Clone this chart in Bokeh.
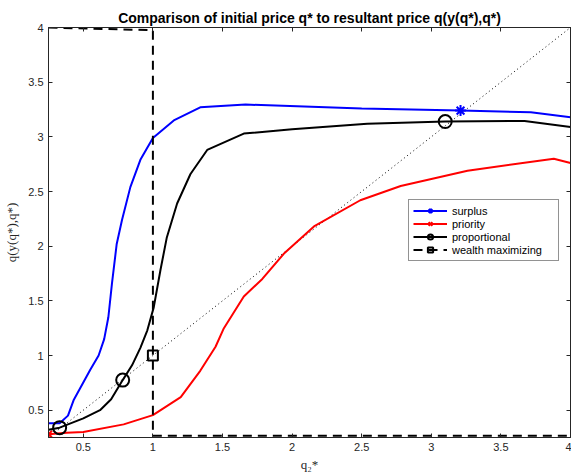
from bokeh.plotting import figure
from bokeh.models import Range1d, LinearAxis, FixedTicker, Legend, LegendItem
from bokeh.embed import file_html
from bokeh.resources import INLINE

# ---- data ----
surplus_x = [0.25, 0.33, 0.39, 0.43, 0.55, 0.61, 0.65, 0.68, 0.706, 0.74, 0.778, 0.838, 0.91, 1.0, 1.15, 1.34, 1.666, 2.5, 3.21, 3.715, 4.0]
surplus_y = [0.38, 0.38, 0.45, 0.59, 0.87, 1.00, 1.15, 1.35, 1.66, 2.02, 2.24, 2.54, 2.79, 2.99, 3.15, 3.27, 3.295, 3.26, 3.24, 3.225, 3.18]

priority_x = [0.25, 0.38, 0.5, 0.79, 1.0, 1.2, 1.34, 1.45, 1.51, 1.653, 1.786, 1.94, 2.157, 2.49, 2.78, 3.26, 3.88, 4.0]
priority_y = [0.28, 0.293, 0.30, 0.37, 0.455, 0.62, 0.86, 1.08, 1.25, 1.54, 1.70, 1.93, 2.18, 2.42, 2.55, 2.69, 2.80, 2.76]

proportional_x = [0.25, 0.33, 0.50, 0.62, 0.70, 0.783, 0.85, 0.91, 0.96, 1.006, 1.054, 1.10, 1.174, 1.27, 1.39, 1.653, 2.0, 2.54, 3.10, 3.67, 4.0]
proportional_y = [0.32, 0.34, 0.425, 0.50, 0.60, 0.775, 0.91, 1.07, 1.23, 1.44, 1.78, 2.08, 2.39, 2.66, 2.88, 3.03, 3.07, 3.12, 3.14, 3.145, 3.09]

wealth_x = [0.25, 1.0, 1.0, 1.0, 4.0]
wealth_y = [4.0, 3.975, 1.0, 0.265, 0.265]

diag_x = [0.25, 4.0]
diag_y = [0.25, 4.0]

surplus_mx, surplus_my = [3.21], [3.24]
priority_mx, priority_my = [0.25], [0.28]
proportional_mx, proportional_my = [0.33, 0.783, 3.10], [0.34, 0.775, 3.14]
wealth_mx, wealth_my = [1.0], [1.0]

ticks = [0.5, 1.0, 1.5, 2.0, 2.5, 3.0, 3.5, 4.0]

title_text = "Comparison of initial price q* to resultant price q(y(q*),q*)"
x_label = "q\u2082*"
y_label = "q(y(q*),q*)"

AX = "#262626"

p = figure(width=571, height=474, x_range=Range1d(0.25, 4.0), y_range=Range1d(0.25, 4.0),
           output_backend="svg", toolbar_location=None,
           min_border_left=48, min_border_right=1, min_border_top=27, min_border_bottom=37,
           x_axis_label=x_label, y_axis_label=y_label)

p.title.text = title_text
p.title.align = "center"
p.title.text_font = "Liberation Sans"
p.title.text_font_style = "bold"
p.title.text_font_size = "14px"
p.title.text_color = "black"
p.title.standoff = 4

p.grid.visible = False
p.outline_line_color = AX
p.outline_line_width = 1

for ax in (p.xaxis[0], p.yaxis[0]):
    ax.ticker = FixedTicker(ticks=ticks)
    ax.major_tick_in = 4
    ax.major_tick_out = 0
    ax.minor_tick_line_color = None
    ax.axis_line_color = AX
    ax.major_tick_line_color = AX
    ax.major_label_text_font = "Liberation Sans"
    ax.major_label_text_font_size = "11px"
    ax.major_label_text_color = AX
    ax.major_label_standoff = 5
    ax.axis_label_text_font = "Liberation Serif"
    ax.axis_label_text_font_size = "13px"
    ax.axis_label_text_font_style = "normal"
    ax.axis_label_text_color = AX
p.xaxis[0].axis_label_standoff = 3
p.yaxis[0].axis_label_standoff = 6

# top and right frame ticks (no labels): drawn as minor ticks of extra axes
for side in ("above", "right"):
    a = LinearAxis(ticker=FixedTicker(ticks=[], minor_ticks=ticks),
                   major_tick_line_color=None, minor_tick_in=4, minor_tick_out=0,
                   minor_tick_line_color=AX, axis_line_color=AX,
                   major_label_standoff=0)
    p.add_layout(a, side)

# diagonal
p.line(diag_x, diag_y, line_color="black", line_width=1, line_dash="1 3")

r_s = p.line(surplus_x, surplus_y, line_color="#0000ff", line_width=2)
m_s = p.scatter(surplus_mx, surplus_my, marker="asterisk", size=11, line_color="#0000ff", line_width=2)

r_p = p.line(priority_x, priority_y, line_color="#ff0000", line_width=2)
m_p = p.scatter(priority_mx, priority_my, marker="x", size=10, line_color="#ff0000", line_width=2)

r_r = p.line(proportional_x, proportional_y, line_color="black", line_width=2)
m_r = p.scatter(proportional_mx, proportional_my, marker="circle", size=13, line_color="black",
                fill_color=None, line_width=2)

r_w = p.line(wealth_x, wealth_y, line_color="black", line_width=2, line_dash="9 6")
m_w = p.scatter(wealth_mx, wealth_my, marker="square", size=10, line_color="black",
                fill_color=None, line_width=2)

legend = Legend(items=[
    LegendItem(label="surplus", renderers=[r_s, m_s]),
    LegendItem(label="priority", renderers=[r_p, m_p]),
    LegendItem(label="proportional", renderers=[r_r, m_r]),
    LegendItem(label="wealth maximizing", renderers=[r_w, m_w]),
], location=(360, 176))
legend.label_text_font = "Liberation Sans"
legend.label_text_font_size = "11px"
legend.label_text_color = "black"
legend.glyph_width = 34
legend.glyph_height = 13
legend.label_height = 13
legend.label_width = 102
legend.label_standoff = 5
legend.spacing = 0
legend.padding = 4
legend.margin = 0
legend.border_line_color = AX
legend.border_line_width = 1
legend.background_fill_alpha = 1.0
p.add_layout(legend, "center")

open("out.html", "w").write(file_html(p, INLINE))
